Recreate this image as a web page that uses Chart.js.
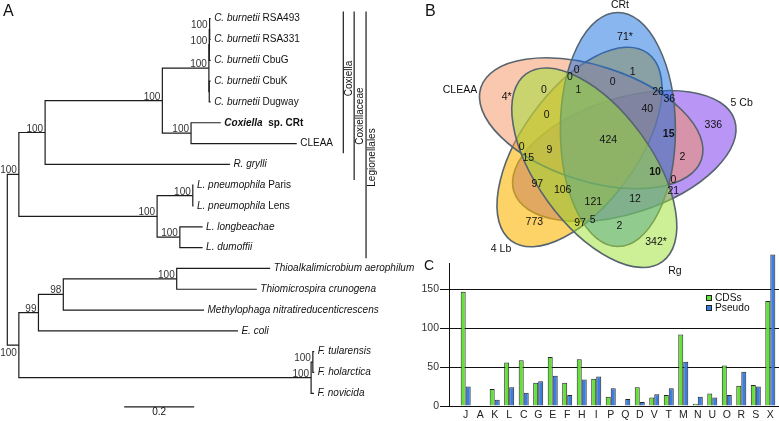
<!DOCTYPE html>
<html>
<head>
<meta charset="utf-8">
<script src="https://cdn.jsdelivr.net/npm/chart.js@4.4.0/dist/chart.umd.min.js"></script>
<style>
  body { margin: 0; background: #fff; width: 779px; height: 421px; overflow: hidden; position: relative;
         font-family: "Liberation Sans", Arial, sans-serif; color: #111; }
  canvas { position: absolute; }
  #treeChart { left: 0; top: 0; }
  #barChart { left: 400px; top: 250px; }
  #vennChart { left: 440px; top: 0; }
  .panel { position: absolute; line-height: 1; }
  .key { position: absolute; font-size: 10.2px; line-height: 1; }
  .key i { position: absolute; width: 4px; height: 4px; border: 1px solid #222; left: -9px; top: 2px; }
</style>
</head>
<body>
<canvas id="treeChart" width="440" height="421"></canvas>
<canvas id="barChart" width="379" height="171"></canvas>
<canvas id="vennChart" width="339" height="285"></canvas>
<div class="panel" style="left:3px;top:3px;font-size:16px">A</div>
<div class="panel" style="left:425px;top:3px;font-size:16px">B</div>
<div class="panel" style="left:424px;top:258px;font-size:14px">C</div>
<div class="key" style="left:715px;top:293px"><i style="background:#62e236"></i>CDSs</div>
<div class="key" style="left:715px;top:302.5px"><i style="background:#3a7ee4"></i>Pseudo</div>

<script>
const FAMILY = '"Liberation Sans", Arial, sans-serif';
Chart.defaults.font.family = FAMILY;

// ---- A: tree (depth in substitutions/site, row = tip order) ----
const tipIds = ["RSA493", "RSA331", "CbuG", "CbuK", "Dugway", "CRt", "CLEAA", "Rgrylli", "LpParis", "LpLens",
  "Llong", "Ldum", "Thioalk", "Thiomicro", "Methylo", "Ecoli", "Ftul", "Fhol", "Fnov"];
const tipItalic = ["C. burnetii", "C. burnetii", "C. burnetii", "C. burnetii", "C. burnetii", "Coxiella", "",
  "R. grylli", "L. pneumophila", "L. pneumophila", "L. longbeachae", "L. dumoffii",
  "Thioalkalimicrobium aerophilum", "Thiomicrospira crunogena", "Methylophaga nitratireducenticrescens",
  "E. coli", "F. tularensis", "F. holarctica", "F. novicida"];
const tipPlain = [" RSA493", " RSA331", " CbuG", " CbuK", " Dugway", "  sp. CRt", "CLEAA", "", " Paris", " Lens",
  "", "", "", "", "", "", "", "", ""];
const tipDepth = [0.581, 0.581, 0.581, 0.581, 0.581, 0.610, 0.827, 0.636, 0.532, 0.532,
  0.558, 0.558, 0.751, 0.713, 0.562, 0.659, 0.877, 0.877, 0.876];

const nodeIds = ["cbA", "cbB", "cbC", "cb", "crt", "cox", "coxf", "lpn", "llo", "leg", "legf",
  "thio", "n98", "n99", "fA", "fr", "out", "root"];
const nodeKids = [["RSA493", "RSA331"], ["cbA", "CbuG"], ["CbuK", "Dugway"], ["cbB", "cbC"], ["CRt", "CLEAA"],
  ["cb", "crt"], ["cox", "Rgrylli"], ["LpParis", "LpLens"], ["Llong", "Ldum"], ["lpn", "llo"], ["coxf", "leg"],
  ["Thioalk", "Thiomicro"], ["thio", "Methylo"], ["n98", "Ecoli"], ["Ftul", "Fhol"], ["fA", "Fnov"],
  ["n99", "fr"], ["legf", "out"]];
const nodeDepth = [0.578, 0.577, 0.577, 0.576, 0.525, 0.443, 0.108, 0.530, 0.493, 0.428, 0.033,
  0.484, 0.160, 0.089, 0.873, 0.868, 0.033, 0];
const nodeSupport = ["100", "100", "", "100", "100", "100", "100", "100", "100", "100", "100",
  "100", "98", "99", "100", "100", "100", ""];
const supportBelow = ["out"];

const cladeNames = ["Coxiella", "Coxiellaceae", "Legionellales"];
const cladeDepth = [0.960, 0.991, 1.025];
const cladeFirstRow = [-0.34, -0.34, -0.34];
const cladeLastRow = [6.47, 7.75, 11.51];
const cladeLabelRow = [2.87, 4.68, 6.67];

const scaleBarStart = 0.334;
const scaleBarLength = 0.2;
const scaleBarRow = 18.65;

// ---- B: Venn (ellipses in diagram units, drawing order) ----
const vennSets = ["5 Cb", "4 Lb", "CLEAA", "CRt", "Rg"];
const vennCx = [0.243, -0.205, -0.088, 0.179, -0.057];
const vennCy = [-0.11, -0.02, 0.217, 0.155, -0.227];
const vennA = [1.16, 1.16, 1.16, 1.17, 1.16];
const vennB = [0.575, 0.575, 0.575, 0.575, 0.575];
const vennAngle = [18, 234, 162, 90, 306];
const vennFill = ["rgba(115,45,235,0.5)", "rgba(252,180,0,0.6)", "rgba(245,145,95,0.5)",
  "rgba(21,109,225,0.5)", "rgba(155,225,45,0.5)"];

const vennText = ["CRt", "71*", "1", "0", "0", "0", "CLEAA", "4*", "0", "1", "26", "36", "5 Cb", "0", "40",
  "336", "15", "424", "0", "9", "2", "15", "10", "0", "97", "106", "21", "12", "121", "773", "97", "5",
  "2", "342*", "4 Lb", "Rg"];
const vennTextX = [0.20, 0.25, 0.327, -0.233, -0.30, 0.127, -1.40, -0.933, -0.56, -0.217, 0.58, 0.693, 1.417,
  -0.533, 0.473, 1.133, 0.687, 0.083, -0.783, -0.507, 0.823, -0.717, 0.55, 0.733, -0.627, -0.373, 0.733,
  0.35, -0.067, -0.657, -0.20, -0.073, 0.193, 0.56, -0.99, 0.75];
const vennTextY = [1.40, 1.083, 0.733, 0.75, 0.677, 0.633, 0.55, 0.477, 0.55, 0.55, 0.533, 0.457, 0.417,
  0.30, 0.357, 0.20, 0.11, 0.05, -0.017, -0.05, -0.117, -0.127, -0.273, -0.35, -0.393, -0.45, -0.457,
  -0.54, -0.567, -0.767, -0.777, -0.75, -0.807, -0.967, -1.04, -1.26];
const vennBold = [16, 22];

// ---- C: COG categories ----
const cogCategories = ["J", "A", "K", "L", "C", "G", "E", "F", "H", "I", "P", "Q", "D", "V", "T", "M", "N",
  "U", "O", "R", "S", "X"];
const cdsCounts = [147, 1, 22, 56, 59, 30, 63, 30, 60, 35, 12, 0, 24, 11, 14, 92, 3, 16, 52, 26, 27, 135];
const pseudoCounts = [25, 0, 8, 24, 17, 32, 39, 14, 34, 38, 23, 9, 5, 15, 23, 57, 12, 11, 14, 44, 25, 195];

// tree layout: tips at their row, internal nodes midway between children
const pos = {};
tipIds.forEach((id, i) => { pos[id] = { x: tipDepth[i], y: i }; });
nodeIds.forEach((id, i) => {
  const [a, b] = nodeKids[i];
  pos[id] = { x: nodeDepth[i], y: (pos[a].y + pos[b].y) / 2 };
});

const lineStyle = { showLine: true, borderColor: "#1c1c1c", borderWidth: 1.2, pointRadius: 0,
  borderJoinStyle: "miter", tension: 0, fill: false };

const treeSets = nodeIds.map((id, i) => {
  const [a, b] = nodeKids[i].map(k => pos[k]);
  return Object.assign({
    data: [{ x: a.x, y: a.y }, { x: nodeDepth[i], y: a.y }, { x: nodeDepth[i], y: b.y }, { x: b.x, y: b.y }]
  }, lineStyle);
});
cladeNames.forEach((n, i) => {
  treeSets.push(Object.assign({
    data: [{ x: cladeDepth[i], y: cladeFirstRow[i] }, { x: cladeDepth[i], y: cladeLastRow[i] }]
  }, lineStyle));
});
treeSets.push(Object.assign({
  data: [{ x: scaleBarStart, y: scaleBarRow }, { x: scaleBarStart + scaleBarLength, y: scaleBarRow }]
}, lineStyle));

const treeText = {
  id: "treeText",
  afterDatasetsDraw(chart) {
    const { ctx, scales: { x, y } } = chart;
    ctx.save();
    ctx.fillStyle = "#111";
    ctx.textBaseline = "middle";
    tipIds.forEach((id, i) => {
      let px = x.getPixelForValue(tipDepth[i]) + 3.5;
      const py = y.getPixelForValue(i);
      const weight = id === "CRt" ? "bold " : "";
      if (tipItalic[i]) {
        ctx.font = "italic " + weight + "10px " + FAMILY;
        ctx.fillText(tipItalic[i], px, py);
        px += ctx.measureText(tipItalic[i]).width;
      }
      if (tipPlain[i]) {
        ctx.font = weight + "10px " + FAMILY;
        ctx.fillText(tipPlain[i], px, py);
      }
    });

    ctx.font = "10px " + FAMILY;
    ctx.fillStyle = "#333";
    ctx.textAlign = "right";
    ctx.textBaseline = "alphabetic";
    nodeIds.forEach((id, i) => {
      if (!nodeSupport[i]) return;
      const px = x.getPixelForValue(pos[id].x) - 2;
      const py = y.getPixelForValue(pos[id].y);
      ctx.fillText(nodeSupport[i], px, supportBelow.includes(id) ? py + 10.5 : py - 1);
    });

    ctx.fillStyle = "#111";
    ctx.textAlign = "center";
    ctx.textBaseline = "middle";
    cladeNames.forEach((n, i) => {
      ctx.save();
      ctx.translate(x.getPixelForValue(cladeDepth[i]) + 6.3, y.getPixelForValue(cladeLabelRow[i]));
      ctx.rotate(-Math.PI / 2);
      ctx.fillText(n, 0, 0);
      ctx.restore();
    });
    ctx.fillText("0.2", x.getPixelForValue(scaleBarStart + scaleBarLength / 2), y.getPixelForValue(scaleBarRow) + 5.5);
    ctx.restore();
  }
};

new Chart(document.getElementById("treeChart"), {
  type: "scatter",
  data: { datasets: treeSets },
  options: {
    responsive: false, animation: false, devicePixelRatio: 1, events: [],
    layout: { padding: 0 },
    plugins: { legend: { display: false }, tooltip: { enabled: false } },
    scales: {
      x: { type: "linear", display: false, min: -0.02086, max: 1.23629 },
      y: { type: "linear", display: false, reverse: true, min: -0.8986, max: 19.332 }
    }
  },
  plugins: [treeText]
});

// ---- Venn ----
const vennDraw = {
  id: "vennDraw",
  beforeDatasetsDraw(chart) {
    const { ctx, scales: { x, y } } = chart;
    const ux = x.getPixelForValue(1) - x.getPixelForValue(0);
    const uy = y.getPixelForValue(0) - y.getPixelForValue(1);
    ctx.save();
    vennSets.forEach((s, i) => {
      ctx.beginPath();
      ctx.ellipse(x.getPixelForValue(vennCx[i]), y.getPixelForValue(vennCy[i]),
        vennA[i] * ux, vennB[i] * uy, -vennAngle[i] * Math.PI / 180, 0, 2 * Math.PI);
      ctx.fillStyle = vennFill[i];
      ctx.fill();
      ctx.strokeStyle = "#56646f";
      ctx.lineWidth = 1.6;
      ctx.stroke();
    });
    ctx.restore();
  },
  afterDatasetsDraw(chart) {
    const { ctx } = chart;
    const pts = chart.getDatasetMeta(0).data;
    ctx.save();
    ctx.fillStyle = "#111";
    ctx.textAlign = "center";
    ctx.textBaseline = "middle";
    vennText.forEach((t, i) => {
      ctx.font = (vennBold.includes(i) ? "bold " : "") + "10.5px " + FAMILY;
      ctx.fillText(t, pts[i].x, pts[i].y);
    });
    ctx.restore();
  }
};

new Chart(document.getElementById("vennChart"), {
  type: "scatter",
  data: { datasets: [{ data: vennText.map((t, i) => ({ x: vennTextX[i], y: vennTextY[i] })), pointRadius: 0 }] },
  options: {
    responsive: false, animation: false, devicePixelRatio: 1, events: [],
    layout: { padding: 0, autoPadding: false },
    plugins: { legend: { display: false }, tooltip: { enabled: false } },
    scales: {
      x: { type: "linear", display: false, min: -1.6, max: 1.79 },
      y: { type: "linear", display: false, min: -1.40, max: 1.45 }
    }
  },
  plugins: [vennDraw]
});

// ---- bar chart ----
const barStyle = { borderColor: "#262626", borderWidth: 1, categoryPercentage: 0.69, barPercentage: 1, clip: false };

new Chart(document.getElementById("barChart"), {
  type: "bar",
  data: {
    datasets: [
      Object.assign({ label: "CDSs", data: cdsCounts.map((v, i) => ({ x: i, y: v })), backgroundColor: "#62e236" }, barStyle),
      Object.assign({ label: "Pseudo", data: pseudoCounts.map((v, i) => ({ x: i, y: v })), backgroundColor: "#3a7ee4" }, barStyle)
    ]
  },
  options: {
    responsive: false, animation: false, devicePixelRatio: 1, events: [],
    layout: { padding: { top: 13, left: 0, right: 0, bottom: 0 } },
    plugins: { legend: { display: false }, tooltip: { enabled: false } },
    scales: {
      x: {
        type: "linear", min: -1.15, max: 21.6, offset: false,
        grid: { display: false, drawTicks: false },
        border: { display: true, color: "#111", width: 1 },
        ticks: {
          stepSize: 1, autoSkip: false, maxRotation: 0, minRotation: 0, includeBounds: false, padding: 3,
          color: "#222", font: { size: 10.5 },
          callback: v => cogCategories[v] ?? ""
        },
        afterFit(s) { s.height = 15; }
      },
      y: {
        min: 0, max: 184,
        grid: { color: "#111", lineWidth: 1, tickLength: 9, drawTicks: true },
        border: { display: true, color: "#111", width: 1 },
        ticks: { stepSize: 50, includeBounds: false, padding: 1, color: "#333", font: { size: 10.5 } },
        afterFit(s) { s.width = 49; }
      }
    }
  }
});
</script>
</body>
</html>
